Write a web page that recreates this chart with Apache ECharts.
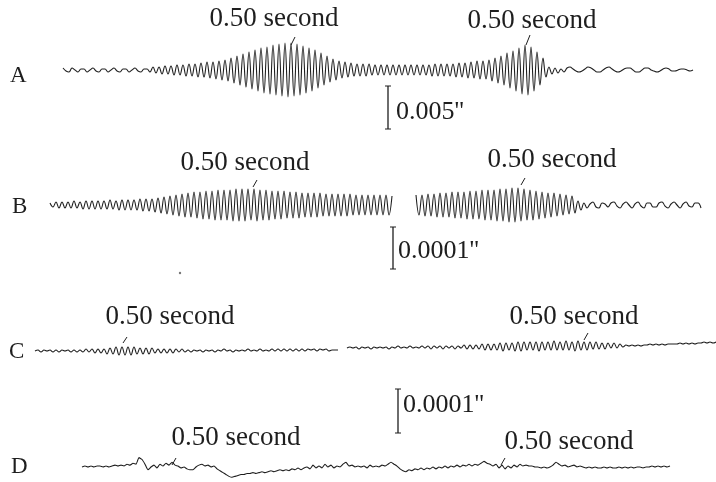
<!DOCTYPE html>
<html>
<head>
<meta charset="utf-8">
<style>
	html,body{margin:0;padding:0;background:#fff}
	#main{width:716px;height:482px}
</style>
<script src="https://cdn.jsdelivr.net/npm/echarts@6/dist/echarts.min.js"></script>
</head>
<body>
<div id="main"></div>
<script>
// trace displacements, one value every ~3 px of record
var traceA = [
	2,-1,-2,2,0,-2,1,1,-2,0,2,-1,-2,1,1,-2,0,2,-1,-2,1,1,-2,0,2,-1,-2,1,1,-2,
	3,-3,3,-4,4,-4,4,-5,5,-5,5,-6,6,-6,6,-7,7,-7,8,-8,8,-9,9,-10,10,
	-11,12,-13,14,-15,16,-17,18,-19,20,-21,22,-23,23,-24,25,-25,26,-26,27,
	-27,27,-26,26,-25,24,-23,22,-21,20,-18,17,-15,14,-12,11,-10,9,-8,8,
	-7,7,-6,6,-6,6,-6,6,-5,5,-5,5,-5,5,-5,5,-5,5,-5,5,-5,5,-5,5,-5,5,-5,5,-6,6,
	-6,6,-6,6,-6,6,-7,7,-7,7,-8,8,-8,9,-9,
	9,-9,10,-11,12,-13,14,-15,17,-18,19,-21,22,-24,25,-25,23,-21,18,-15,12,
	-7,3,-4,2,-3,1,-2,2,3,1,-1,-2,-1,1,3,2,0,-2,-2,0,2,3,1,-1,-2,-1,1,2,2,0,
	-2,-2,0,2,2,0,-1,-2,-1,1,2,1,-1,-1,0,1,1,0,-1,0
];
var traceB = [
	2,-2,3,-3,3,-3,3,-3,4,-3,3,-4,4,-4,4,-4,4,-4,4,-4,5,-4,4,-5,5,-5,5,-5,5,-5,6,-6,6,-6,
	6,-7,7,-8,8,-9,9,-10,10,-11,11,-12,12,-12,13,-13,13,
	-14,14,-14,14,-15,15,-15,15,-15,15,-16,16,-16,16,-16,16,-15,16,-16,15,-15,15,-15,14,-14,14,-14,14,-13,13,-13,13,-13,
	12,-12,12,-12,12,-12,12,-11,11,-11,11,-11,11,-11,11,-11,11,-10,10,-10,10,-10,10,-10,10,-10,10,-10,10,-10,9,
	null,null,null,null,null,null,null,
	10,-10,10,-11,11,-11,11,-12,12,-12,12,-12,13,-13,13,-13,13,-14,14,-14,14,-14,15,-15,15,-15,15,-16,16,-16,16,-17,17,-17,17,
	-16,16,-15,15,-15,14,-14,13,-13,12,-12,12,-11,11,-10,10,-9,9,-8,
	4,-5,2,-3,1,3,-2,-3,2,1,-2,2,3,-1,-3,1,3,0,-3,1,3,-1,-3,2,2,-2,-2,2,3,-1,-3,1,3,0,-3,1,3,-1,-2,2,2,-3
];
var traceC = [
	0,1,-1,1,0,1,-1,1,-1,1,0,1,-1,1,-1,1,-1,2,-1,2,-2,2,
	-2,2,-3,3,-3,4,-4,4,-4,4,-4,4,-3,3,
	-3,3,-3,3,-2,2,-2,2,-2,2,-2,2,-1,2,-1,
	1,-1,1,0,1,-1,1,0,1,-1,1,0,2,0,1,-1,1,0,1,0,2,0,1,0,2,0,1,0,2,0,2,0,2,0,2,0,2,0,2,0,2,1,2,0,2,1,2,0,1,1,1,
	null,null,
	3,4,3,4,2,4,3,4,2,4,3,4,3,4,2,4,3,5,3,4,3,5,3,4,3,5,3,5,2,5,3,5,2,5,3,5,2,5,3,6,2,6,
	2,6,2,7,1,7,1,7,1,8,0,8,1,8,0,
	9,0,9,1,9,1,9,0,9,1,9,1,10,1,9,1,10,1,9,0,10,1,9,1,9,2,9,2,8,2,8,3,8,3,7,4,
	6,5,6,5,6,5,6,6,7,6,7,6,7,6,7,7,7,7,8,7,8,7,8,7,8,8,9,8,9,8,9
];
var traceD = [
	0,1,0,1,0,1,1,0,1,0,1,2,1,2,1,3,
	2,4,3,10,8,3,-3,0,2,-1,3,1,4,2,5,2,1,-1,0,-2,-3,-3,0,2,3,1,2,0,1,-2,-4,-6,-8,-10,
	-11,-10,-9,-8,-8,-7,-7,-6,-7,-6,-5,-6,-5,-4,-5,-4,-3,-4,-3,-4,-2,-3,-1,-3,-1,0,-2,2,-1,1,
	-1,3,0,2,-1,1,0,3,5,1,2,0,1,0,1,-1,2,0,1,0,2,1,3,5,3,1,-2,-4,-5,-3,
	-4,-2,-3,-1,-3,-1,-2,0,-2,0,-1,1,-1,1,0,2,0,2,1,3,1,3,2,4,6,4,3,1,3,-1,
	2,-2,1,-1,2,0,3,1,2,1,1,0,0,-1,0,-1,0,2,5,3,1,2,0,1,2,0,1,0,-1,0,
	-1,0,-1,-1,0,-1,0,-1,-1,0,-1,0,-1,0,-1,0,0,-1,0,0,1,0,1,0,1,0,1
];
var traceNames = ['A', 'B', 'C', 'D'];
var markText = '0.50 second';
var scaleText = ['0.005\'\'', '0.0001\'\'', '0.0001\'\''];

var ink = '#1e1e1e';
var serif = '"Liberation Serif", "DejaVu Serif", serif';
var traces = [traceA, traceB, traceC, traceD];
// plate layout of each record: left, width, baseline, half height
var rows = [
	{left: 63, width: 630, base: 70, half: 30},
	{left: 50, width: 651, base: 205, half: 22},
	{left: 35, width: 681, base: 351, half: 15},
	{left: 82, width: 588, base: 468, half: 16}
];

var myChart = echarts.init(document.getElementById('main'));

var grid = [], xAxis = [], yAxis = [], series = [];
rows.forEach(function(r, k){
	grid.push({left: r.left, width: r.width, top: r.base - r.half, height: r.half * 2});
	xAxis.push({type: 'category', gridIndex: k, show: false, boundaryGap: false,
		data: traces[k].map(function(v, i){ return i; })});
	yAxis.push({type: 'value', gridIndex: k, show: false, min: -r.half, max: r.half});
	series.push({
		type: 'line', xAxisIndex: k, yAxisIndex: k, data: traces[k],
		showSymbol: false, smooth: k == 3 ? 0.15 : 0.4, connectNulls: false,
		lineStyle: {color: ink, width: 1.1}, silent: true
	});
});

function txt(s, x, y, size, align){
	return {type: 'text', silent: true, style: {text: s, x: x, y: y, font: size + 'px ' + serif,
		fill: ink, textAlign: align || 'center', textVerticalAlign: 'middle', align: align || 'center', verticalAlign: 'middle'}};
}
function seg(x1, y1, x2, y2, w){
	return {type: 'line', silent: true, shape: {x1: x1, y1: y1, x2: x2, y2: y2},
		style: {stroke: ink, lineWidth: w || 1}};
}
function bar(x, y1, y2){
	return [seg(x, y1, x, y2, 1.3), seg(x - 3, y1, x + 3, y1), seg(x - 3, y2, x + 3, y2)];
}

var g = [];
// record letters
g.push(txt(traceNames[0], 10, 76, 23, 'left'));
g.push(txt(traceNames[1], 12, 207, 23, 'left'));
g.push(txt(traceNames[2], 9, 352, 23, 'left'));
g.push(txt(traceNames[3], 11, 467, 23, 'left'));
// 0.50 second marks
[[274, 19, 291, 45, 295, 37], [532, 21, 526, 45, 530, 35],
 [245, 163, 253, 187, 257, 180], [552, 160, 521, 185, 525, 178],
 [170, 317, 123, 343, 127, 337], [574, 317, 584, 340, 588, 333],
 [236, 438, 172, 465, 176, 458], [569, 442, 501, 465, 505, 458]].forEach(function(m){
	g.push(txt(markText, m[0], m[1], 27));
	g.push(seg(m[2], m[3], m[4], m[5], 1));
});
// amplitude scale bars
g = g.concat(bar(388, 86, 129));
g.push(txt(scaleText[0], 396, 112, 26, 'left'));
g = g.concat(bar(393, 227, 269));
g.push(txt(scaleText[1], 398, 251, 26, 'left'));
g = g.concat(bar(398, 389, 433));
g.push(txt(scaleText[2], 403, 405, 26, 'left'));
g.push({type: 'circle', silent: true, shape: {cx: 180, cy: 273, r: 1.2}, style: {fill: '#777'}});

option = {
	backgroundColor: '#fff',
	animation: false,
	grid: grid,
	xAxis: xAxis,
	yAxis: yAxis,
	series: series,
	graphic: {elements: g}
};
myChart.setOption(option);
</script>
</body>
</html>
